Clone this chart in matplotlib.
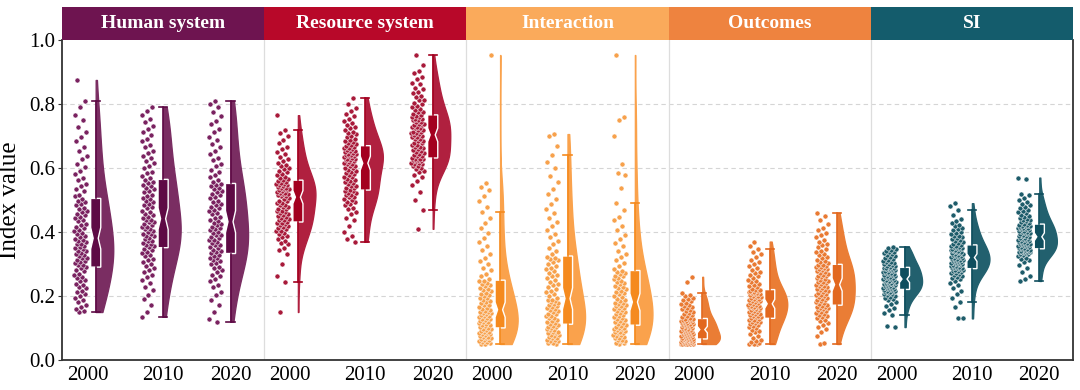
import numpy as np
import matplotlib
matplotlib.use("Agg")
import matplotlib.pyplot as plt
from matplotlib.patches import Rectangle
import matplotlib.transforms as mtransforms

plt.rcParams['font.family'] = ['Liberation Serif', 'DejaVu Serif']

categories = ["Human system", "Resource system", "Interaction", "Outcomes", "SI"]
years = ["2000", "2010", "2020"]

human_2000 = [0.150, 0.152, 0.158, 0.166, 0.171, 0.180, 0.189, 0.194, 0.201, 0.205, 0.213, 0.217, 0.224, 0.228, 0.235, 0.239, 0.246, 0.249, 0.257, 0.260, 0.267, 0.270, 0.277, 0.281, 0.288,
              0.291, 0.296, 0.298, 0.303, 0.305, 0.310, 0.312, 0.318, 0.320, 0.325, 0.327, 0.332, 0.334, 0.340, 0.342, 0.347, 0.349, 0.354, 0.356, 0.362, 0.363, 0.369, 0.371, 0.376, 0.378,
              0.383, 0.386, 0.393, 0.396, 0.403, 0.406, 0.413, 0.416, 0.423, 0.426, 0.433, 0.436, 0.443, 0.446, 0.453, 0.456, 0.463, 0.466, 0.473, 0.476, 0.483, 0.486, 0.493, 0.496, 0.503,
              0.511, 0.517, 0.527, 0.533, 0.544, 0.551, 0.562, 0.570, 0.582, 0.591, 0.604, 0.614, 0.628, 0.639, 0.654, 0.666, 0.683, 0.696, 0.714, 0.729, 0.749, 0.767, 0.791, 0.810, 0.875]
human_2010 = [0.135, 0.151, 0.171, 0.191, 0.204, 0.219, 0.229, 0.241, 0.249, 0.259, 0.265, 0.275, 0.280, 0.289, 0.293, 0.301, 0.305, 0.313, 0.317, 0.324, 0.327, 0.335, 0.338, 0.345, 0.348,
              0.352, 0.357, 0.359, 0.364, 0.366, 0.372, 0.373, 0.379, 0.381, 0.386, 0.388, 0.394, 0.395, 0.401, 0.403, 0.408, 0.410, 0.416, 0.417, 0.423, 0.425, 0.430, 0.432, 0.437, 0.439,
              0.444, 0.447, 0.454, 0.457, 0.464, 0.467, 0.474, 0.477, 0.484, 0.487, 0.494, 0.497, 0.504, 0.507, 0.514, 0.517, 0.524, 0.527, 0.534, 0.537, 0.544, 0.547, 0.554, 0.557, 0.563,
              0.569, 0.574, 0.583, 0.589, 0.599, 0.605, 0.615, 0.621, 0.631, 0.637, 0.647, 0.654, 0.665, 0.672, 0.683, 0.691, 0.703, 0.711, 0.723, 0.732, 0.745, 0.754, 0.767, 0.777, 0.790]
human_2020 = [0.120, 0.129, 0.149, 0.173, 0.189, 0.204, 0.214, 0.227, 0.235, 0.246, 0.252, 0.262, 0.267, 0.276, 0.280, 0.288, 0.292, 0.299, 0.302, 0.309, 0.312, 0.318, 0.320, 0.326, 0.329,
              0.334, 0.336, 0.342, 0.344, 0.350, 0.352, 0.358, 0.360, 0.366, 0.368, 0.374, 0.376, 0.382, 0.384, 0.390, 0.392, 0.398, 0.400, 0.406, 0.408, 0.414, 0.416, 0.422, 0.424, 0.429,
              0.435, 0.438, 0.445, 0.448, 0.455, 0.458, 0.465, 0.468, 0.475, 0.478, 0.485, 0.488, 0.495, 0.498, 0.505, 0.508, 0.515, 0.518, 0.525, 0.528, 0.535, 0.538, 0.544, 0.546, 0.550,
              0.557, 0.562, 0.572, 0.578, 0.588, 0.595, 0.606, 0.613, 0.624, 0.632, 0.644, 0.652, 0.665, 0.674, 0.687, 0.697, 0.711, 0.721, 0.736, 0.747, 0.763, 0.775, 0.791, 0.799, 0.810]

resource_2000 = [0.150, 0.245, 0.262, 0.300, 0.330, 0.343, 0.351, 0.361, 0.365, 0.373, 0.377, 0.384, 0.387, 0.394, 0.396, 0.402, 0.404, 0.410, 0.411, 0.417, 0.418, 0.423, 0.424, 0.428, 0.429,
                 0.432, 0.436, 0.437, 0.442, 0.443, 0.448, 0.449, 0.454, 0.455, 0.460, 0.461, 0.466, 0.467, 0.472, 0.473, 0.478, 0.479, 0.484, 0.485, 0.490, 0.491, 0.496, 0.498, 0.504, 0.507,
                 0.511, 0.514, 0.515, 0.518, 0.519, 0.522, 0.523, 0.526, 0.527, 0.530, 0.531, 0.534, 0.535, 0.538, 0.539, 0.542, 0.543, 0.546, 0.547, 0.550, 0.551, 0.554, 0.556, 0.559, 0.561,
                 0.565, 0.570, 0.573, 0.578, 0.581, 0.586, 0.590, 0.596, 0.600, 0.606, 0.610, 0.617, 0.622, 0.629, 0.635, 0.643, 0.650, 0.659, 0.667, 0.678, 0.688, 0.701, 0.710, 0.720, 0.765]
resource_2010 = [0.370, 0.378, 0.386, 0.401, 0.419, 0.436, 0.444, 0.456, 0.462, 0.471, 0.475, 0.483, 0.486, 0.493, 0.495, 0.501, 0.503, 0.509, 0.510, 0.515, 0.516, 0.521, 0.522, 0.527, 0.528,
                 0.532, 0.536, 0.538, 0.543, 0.545, 0.550, 0.552, 0.557, 0.559, 0.564, 0.566, 0.571, 0.573, 0.578, 0.580, 0.585, 0.587, 0.592, 0.594, 0.599, 0.600, 0.605, 0.606, 0.611, 0.613,
                 0.617, 0.620, 0.621, 0.624, 0.625, 0.628, 0.629, 0.632, 0.633, 0.636, 0.637, 0.640, 0.641, 0.644, 0.645, 0.648, 0.649, 0.652, 0.653, 0.656, 0.658, 0.661, 0.663, 0.667, 0.669,
                 0.672, 0.676, 0.678, 0.682, 0.684, 0.689, 0.692, 0.697, 0.700, 0.705, 0.708, 0.714, 0.718, 0.724, 0.728, 0.735, 0.740, 0.747, 0.753, 0.761, 0.768, 0.778, 0.787, 0.801, 0.820]
resource_2020 = [0.410, 0.470, 0.501, 0.524, 0.546, 0.559, 0.571, 0.577, 0.586, 0.590, 0.597, 0.599, 0.605, 0.606, 0.611, 0.612, 0.617, 0.617, 0.621, 0.621, 0.625, 0.625, 0.627, 0.628, 0.629,
                 0.632, 0.636, 0.637, 0.642, 0.643, 0.648, 0.649, 0.654, 0.655, 0.660, 0.661, 0.666, 0.667, 0.672, 0.673, 0.678, 0.679, 0.684, 0.685, 0.690, 0.691, 0.696, 0.697, 0.701, 0.702,
                 0.705, 0.709, 0.709, 0.714, 0.714, 0.719, 0.719, 0.724, 0.724, 0.729, 0.729, 0.734, 0.734, 0.739, 0.739, 0.744, 0.744, 0.749, 0.749, 0.754, 0.754, 0.759, 0.759, 0.764, 0.765,
                 0.769, 0.774, 0.776, 0.782, 0.784, 0.791, 0.794, 0.801, 0.804, 0.811, 0.814, 0.821, 0.825, 0.833, 0.837, 0.846, 0.851, 0.861, 0.867, 0.877, 0.884, 0.896, 0.904, 0.921, 0.953]

interaction_2000 = [0.050, 0.051, 0.053, 0.056, 0.057, 0.060, 0.061, 0.064, 0.065, 0.068, 0.069, 0.072, 0.073, 0.076, 0.077, 0.080, 0.081, 0.084, 0.085, 0.088, 0.089, 0.092, 0.093, 0.096, 0.098,
                    0.101, 0.104, 0.105, 0.109, 0.110, 0.113, 0.115, 0.118, 0.119, 0.123, 0.124, 0.127, 0.129, 0.132, 0.133, 0.137, 0.138, 0.141, 0.143, 0.146, 0.147, 0.150, 0.151, 0.154, 0.155,
                    0.159, 0.163, 0.166, 0.171, 0.173, 0.178, 0.181, 0.185, 0.188, 0.193, 0.195, 0.200, 0.203, 0.207, 0.210, 0.215, 0.218, 0.223, 0.226, 0.231, 0.234, 0.239, 0.242, 0.246, 0.248,
                    0.254, 0.263, 0.270, 0.280, 0.288, 0.299, 0.308, 0.319, 0.330, 0.343, 0.355, 0.369, 0.382, 0.398, 0.412, 0.429, 0.445, 0.463, 0.477, 0.496, 0.514, 0.531, 0.540, 0.552, 0.953]
interaction_2010 = [0.050, 0.052, 0.054, 0.058, 0.059, 0.063, 0.064, 0.068, 0.069, 0.073, 0.074, 0.078, 0.079, 0.083, 0.084, 0.088, 0.089, 0.093, 0.094, 0.098, 0.099, 0.103, 0.104, 0.107, 0.108,
                    0.113, 0.117, 0.119, 0.123, 0.126, 0.130, 0.132, 0.136, 0.139, 0.143, 0.145, 0.149, 0.152, 0.156, 0.158, 0.162, 0.165, 0.169, 0.171, 0.175, 0.177, 0.181, 0.183, 0.187, 0.189,
                    0.195, 0.201, 0.206, 0.212, 0.217, 0.223, 0.228, 0.234, 0.239, 0.245, 0.250, 0.256, 0.261, 0.267, 0.272, 0.278, 0.283, 0.289, 0.294, 0.300, 0.305, 0.311, 0.315, 0.320, 0.323,
                    0.331, 0.341, 0.350, 0.361, 0.371, 0.383, 0.394, 0.407, 0.418, 0.432, 0.444, 0.459, 0.472, 0.488, 0.502, 0.519, 0.535, 0.556, 0.575, 0.601, 0.620, 0.640, 0.668, 0.700, 0.706]
interaction_2020 = [0.050, 0.052, 0.054, 0.058, 0.059, 0.063, 0.064, 0.068, 0.069, 0.073, 0.074, 0.078, 0.079, 0.083, 0.084, 0.087, 0.089, 0.092, 0.093, 0.096, 0.097, 0.100, 0.101, 0.104, 0.105,
                    0.110, 0.114, 0.116, 0.120, 0.122, 0.126, 0.128, 0.132, 0.134, 0.138, 0.140, 0.144, 0.146, 0.150, 0.152, 0.156, 0.158, 0.162, 0.164, 0.168, 0.170, 0.173, 0.174, 0.177, 0.178,
                    0.184, 0.189, 0.192, 0.197, 0.200, 0.205, 0.208, 0.213, 0.216, 0.221, 0.224, 0.229, 0.232, 0.237, 0.240, 0.245, 0.248, 0.253, 0.256, 0.261, 0.264, 0.269, 0.272, 0.276, 0.278,
                    0.285, 0.294, 0.302, 0.312, 0.321, 0.332, 0.342, 0.355, 0.366, 0.379, 0.391, 0.406, 0.420, 0.436, 0.448, 0.470, 0.490, 0.537, 0.578, 0.585, 0.612, 0.700, 0.750, 0.760, 0.953]

outcomes_2000 = [0.050, 0.050, 0.050, 0.050, 0.050, 0.050, 0.050, 0.050, 0.051, 0.051, 0.052, 0.053, 0.054, 0.055, 0.056, 0.057, 0.058, 0.059, 0.060, 0.061, 0.062, 0.063, 0.064, 0.064, 0.065,
                 0.066, 0.067, 0.068, 0.069, 0.070, 0.072, 0.073, 0.074, 0.075, 0.076, 0.078, 0.079, 0.080, 0.081, 0.082, 0.084, 0.085, 0.086, 0.087, 0.088, 0.090, 0.091, 0.092, 0.093, 0.094,
                 0.096, 0.097, 0.099, 0.100, 0.102, 0.103, 0.105, 0.106, 0.108, 0.109, 0.111, 0.112, 0.114, 0.115, 0.117, 0.118, 0.120, 0.121, 0.122, 0.123, 0.124, 0.125, 0.127, 0.128, 0.129,
                 0.132, 0.135, 0.138, 0.141, 0.144, 0.147, 0.150, 0.153, 0.156, 0.159, 0.162, 0.165, 0.168, 0.171, 0.175, 0.179, 0.183, 0.187, 0.191, 0.195, 0.199, 0.204, 0.210, 0.245, 0.260]
outcomes_2010 = [0.050, 0.050, 0.051, 0.053, 0.055, 0.058, 0.062, 0.068, 0.074, 0.080, 0.086, 0.091, 0.095, 0.099, 0.103, 0.106, 0.109, 0.112, 0.115, 0.118, 0.120, 0.122, 0.124, 0.126, 0.128,
                 0.131, 0.133, 0.135, 0.137, 0.139, 0.141, 0.143, 0.145, 0.147, 0.149, 0.151, 0.153, 0.155, 0.157, 0.159, 0.161, 0.163, 0.165, 0.166, 0.167, 0.168, 0.169, 0.171, 0.172, 0.174,
                 0.177, 0.179, 0.181, 0.183, 0.185, 0.187, 0.189, 0.191, 0.192, 0.194, 0.196, 0.198, 0.200, 0.201, 0.203, 0.205, 0.207, 0.209, 0.210, 0.212, 0.214, 0.215, 0.216, 0.218, 0.219,
                 0.223, 0.227, 0.231, 0.235, 0.239, 0.243, 0.247, 0.251, 0.256, 0.261, 0.266, 0.271, 0.276, 0.282, 0.288, 0.294, 0.300, 0.307, 0.314, 0.322, 0.330, 0.339, 0.348, 0.355, 0.370]
outcomes_2020 = [0.050, 0.052, 0.075, 0.088, 0.097, 0.104, 0.110, 0.116, 0.121, 0.126, 0.130, 0.134, 0.138, 0.142, 0.145, 0.148, 0.151, 0.154, 0.157, 0.159, 0.161, 0.163, 0.165, 0.167, 0.169,
                 0.172, 0.175, 0.178, 0.180, 0.183, 0.186, 0.188, 0.191, 0.194, 0.196, 0.199, 0.202, 0.204, 0.207, 0.210, 0.212, 0.215, 0.218, 0.220, 0.223, 0.226, 0.228, 0.230, 0.232, 0.234,
                 0.237, 0.240, 0.243, 0.245, 0.248, 0.251, 0.253, 0.256, 0.259, 0.261, 0.264, 0.267, 0.269, 0.272, 0.275, 0.277, 0.280, 0.283, 0.285, 0.288, 0.290, 0.292, 0.294, 0.296, 0.298,
                 0.302, 0.306, 0.310, 0.314, 0.318, 0.322, 0.327, 0.332, 0.337, 0.342, 0.347, 0.352, 0.358, 0.364, 0.370, 0.376, 0.383, 0.390, 0.397, 0.405, 0.414, 0.424, 0.436, 0.450, 0.460]

si_2000 = [0.103, 0.106, 0.140, 0.148, 0.156, 0.163, 0.170, 0.176, 0.181, 0.186, 0.190, 0.194, 0.197, 0.200, 0.203, 0.205, 0.207, 0.209, 0.211, 0.213, 0.214, 0.215, 0.216, 0.218, 0.219,
           0.221, 0.222, 0.224, 0.225, 0.226, 0.228, 0.229, 0.230, 0.232, 0.233, 0.234, 0.236, 0.237, 0.238, 0.240, 0.241, 0.242, 0.244, 0.245, 0.246, 0.247, 0.248, 0.249, 0.250, 0.252,
           0.254, 0.256, 0.257, 0.259, 0.260, 0.262, 0.263, 0.265, 0.266, 0.268, 0.269, 0.271, 0.272, 0.274, 0.275, 0.277, 0.278, 0.280, 0.281, 0.283, 0.284, 0.286, 0.287, 0.288, 0.289,
           0.291, 0.293, 0.295, 0.297, 0.299, 0.301, 0.303, 0.305, 0.307, 0.309, 0.312, 0.315, 0.318, 0.321, 0.324, 0.327, 0.330, 0.333, 0.336, 0.339, 0.342, 0.345, 0.348, 0.351, 0.354]
si_2010 = [0.130, 0.131, 0.165, 0.180, 0.195, 0.207, 0.217, 0.226, 0.234, 0.241, 0.247, 0.252, 0.256, 0.260, 0.263, 0.266, 0.269, 0.271, 0.273, 0.275, 0.277, 0.279, 0.281, 0.282, 0.284,
           0.286, 0.288, 0.289, 0.290, 0.292, 0.293, 0.295, 0.296, 0.297, 0.299, 0.300, 0.302, 0.303, 0.304, 0.306, 0.307, 0.309, 0.310, 0.311, 0.313, 0.314, 0.315, 0.317, 0.318, 0.319,
           0.321, 0.323, 0.324, 0.326, 0.327, 0.329, 0.330, 0.332, 0.334, 0.335, 0.337, 0.338, 0.340, 0.342, 0.343, 0.345, 0.346, 0.348, 0.350, 0.351, 0.353, 0.354, 0.356, 0.357, 0.359,
           0.362, 0.365, 0.368, 0.371, 0.374, 0.377, 0.380, 0.383, 0.386, 0.389, 0.393, 0.397, 0.401, 0.405, 0.409, 0.413, 0.418, 0.423, 0.428, 0.434, 0.440, 0.452, 0.470, 0.480, 0.490]
si_2020 = [0.247, 0.252, 0.262, 0.275, 0.287, 0.297, 0.305, 0.311, 0.316, 0.320, 0.324, 0.327, 0.330, 0.332, 0.334, 0.336, 0.337, 0.338, 0.339, 0.340, 0.341, 0.342, 0.343, 0.344, 0.346,
           0.348, 0.349, 0.351, 0.352, 0.354, 0.355, 0.357, 0.358, 0.360, 0.361, 0.363, 0.364, 0.366, 0.367, 0.369, 0.370, 0.372, 0.373, 0.375, 0.376, 0.378, 0.379, 0.381, 0.382, 0.384,
           0.386, 0.388, 0.389, 0.391, 0.393, 0.394, 0.396, 0.398, 0.399, 0.401, 0.403, 0.404, 0.406, 0.408, 0.409, 0.411, 0.413, 0.414, 0.416, 0.418, 0.419, 0.420, 0.421, 0.422, 0.424,
           0.427, 0.430, 0.433, 0.436, 0.439, 0.442, 0.445, 0.448, 0.451, 0.454, 0.458, 0.462, 0.466, 0.470, 0.474, 0.478, 0.483, 0.488, 0.494, 0.500, 0.507, 0.515, 0.520, 0.565, 0.570]

groups = [human_2000, human_2010, human_2020,
          resource_2000, resource_2010, resource_2020,
          interaction_2000, interaction_2010, interaction_2020,
          outcomes_2000, outcomes_2010, outcomes_2020,
          si_2000, si_2010, si_2020]

header_colors = ["#6E1450", "#B80829", "#FAAA5B", "#EE833F", "#145C6C"]
violin_colors = ["#7A2D62", "#B0203F", "#FAA24C", "#EA7D35", "#22606E"]
point_colors = ["#7A2260", "#A81A3A", "#F7A14C", "#E97A33", "#1E5C6A"]
box_colors = ["#5E0A45", "#A3001F", "#F58A1E", "#E2681F", "#0F4E5E"]

fig = plt.figure(figsize=(10.8, 3.9), dpi=100)
ax = fig.add_axes([62 / 1080, 30 / 390, (1073 - 62) / 1080, 320 / 390])

n_groups = len(groups)
positions = np.arange(n_groups)
golden = 0.6180339887

for i, vals in enumerate(groups):
    c = i // 3
    pos = positions[i]
    vals = np.asarray(vals)
    # half violin
    parts = ax.violinplot([vals], positions=[pos], widths=0.52, showextrema=False)
    for body in parts['bodies']:
        verts = body.get_paths()[0].vertices
        verts[:, 0] = np.clip(verts[:, 0], pos, None)
        body.set_facecolor(violin_colors[c])
        body.set_edgecolor(violin_colors[c])
        body.set_alpha(1.0)
        body.set_linewidth(1.0)
        body.set_zorder(2)
    # jittered points
    k = np.arange(len(vals))
    frac = ((k + 1) * golden + i * 0.37) % 1.0
    xs = pos - 0.13 - 0.19 * frac
    ax.scatter(xs, vals, s=13, color=point_colors[c], edgecolor='white',
               linewidth=0.35, zorder=3)
    # notched box
    ax.boxplot([vals], positions=[pos], widths=0.15, notch=True, patch_artist=True,
               showfliers=False, capwidths=0.12, manage_ticks=False,
               boxprops=dict(facecolor=box_colors[c], edgecolor='white', linewidth=1.0),
               whiskerprops=dict(color=box_colors[c], linewidth=1.2),
               capprops=dict(color=box_colors[c], linewidth=1.2),
               medianprops=dict(linewidth=0),
               zorder=4)

ax.set_xlim(-0.5, n_groups - 0.5)
ax.set_ylim(0, 1.0)

# grid and separators
for yv in [0.2, 0.4, 0.6, 0.8]:
    ax.axhline(yv, color='#D5D5D5', lw=0.8, ls=(0, (4, 3)), zorder=0)
for b in range(1, len(categories)):
    ax.axvline(b * 3 - 0.5, color='#DDDDDD', lw=0.9, zorder=0)

tick_pos = []
tick_lab = []
for c in range(len(categories)):
    for j, yr in enumerate(years):
        off = -0.12 if j == 0 else 0.0
        tick_pos.append(c * 3 + j + off)
        tick_lab.append(yr)
ax.set_xticks(tick_pos)
ax.set_xticklabels(tick_lab, fontsize=15)
ax.set_yticks([0.0, 0.2, 0.4, 0.6, 0.8, 1.0])
ax.set_yticklabels(["0.0", "0.2", "0.4", "0.6", "0.8", "1.0"], fontsize=15)
ax.tick_params(axis='x', length=0, pad=4)
ax.tick_params(axis='y', length=3, pad=2, color='#333333')
ax.set_ylabel("Index value", fontsize=18, labelpad=6)

for sp in ax.spines.values():
    sp.set_color('#333333')
    sp.set_linewidth(1.3)
ax.spines['top'].set_visible(False)

# header band
trans = mtransforms.blended_transform_factory(ax.transData, ax.transAxes)
hh = 33 / 320
for c, name in enumerate(categories):
    rect = Rectangle((c * 3 - 0.5, 1.0), 3, hh, transform=trans, facecolor=header_colors[c],
                     edgecolor='none', clip_on=False, zorder=5)
    ax.add_patch(rect)
    ax.text(c * 3 + 1.0, 1.0 + hh / 2, name, transform=trans, ha='center', va='center',
            color='white', fontsize=14, fontweight='bold', zorder=6)

fig.savefig("out.png", dpi=100)
